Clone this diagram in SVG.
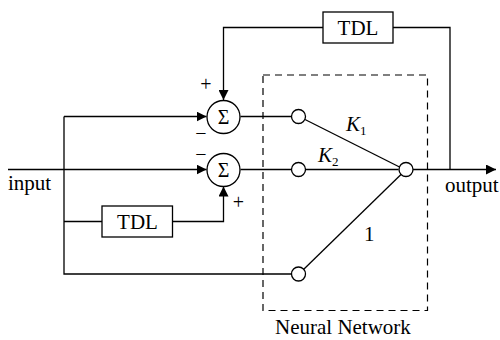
<svg xmlns="http://www.w3.org/2000/svg" width="500" height="340" viewBox="0 0 500 340">
<defs>
<style>
.ln{fill:none;stroke:#000;stroke-width:1.3}
.box{fill:#fff;stroke:#000;stroke-width:1.3}
.nd{fill:#fff;stroke:#000;stroke-width:1.3}
.t{font-family:"Liberation Serif","Times New Roman",serif;font-size:21px;fill:#000}
.s{font-family:"Liberation Serif","Times New Roman",serif;font-size:20px;fill:#000;text-anchor:middle}
.dash{fill:none;stroke:#000;stroke-width:1.2;stroke-dasharray:7,5}
</style>
<marker id="ah" viewBox="0 0 10 10" refX="10" refY="5" markerWidth="10" markerHeight="10" markerUnits="userSpaceOnUse" orient="auto">
<path d="M0,0 L10,5 L0,10 z" fill="#000"/>
</marker>
</defs>
<rect width="500" height="340" fill="#fff"/>
<g id="connectors">
<path class="ln" d="M8,169.5 H206.5" marker-end="url(#ah)"/>
<path class="ln" d="M64,116.5 H206.5"  marker-end="url(#ah)"/>
<path class="ln" d="M64,116.5 V274 H291.5"/>
<path class="ln" d="M64,221.5 H102"/>
<path class="ln" d="M172.5,221.5 H223.5 V186.5" marker-end="url(#ah)"/>
<path class="ln" d="M323,27.5 H223.5 V100" marker-end="url(#ah)"/>
<path class="ln" d="M393,27.5 H450 V170"/>
<path class="ln" d="M240.5,116.5 H291.5"/>
<path class="ln" d="M240.5,169.5 H291.5"/>
<path class="ln" d="M305,119.5 L399.5,167"/>
<path class="ln" d="M305.5,169.5 H398.5"/>
<path class="ln" d="M303,270 L401.5,174"/>
<path class="ln" d="M413,169.5 H496" marker-end="url(#ah)"/>
</g>
<g id="neural-network">
<rect class="dash" x="263" y="75" width="164.5" height="235.5"/>
<text class="t" x="275" y="334">Neural Network</text>
</g>
<g id="sum1">
<circle class="nd" cx="223.5" cy="117" r="16.5"/>
<text class="s" x="223.5" y="124">Σ</text>
<text class="s" x="206" y="91">+</text>
<text class="s" x="201" y="140">−</text>
</g>
<g id="sum2">
<circle class="nd" cx="223.5" cy="170" r="16.5"/>
<text class="s" x="223.5" y="177">Σ</text>
<text class="s" x="201" y="161">−</text>
<text class="s" x="238.5" y="209">+</text>
</g>
<g id="tdl-top">
<rect class="box" x="323" y="12" width="70" height="31"/>
<text class="t" x="358" y="35" text-anchor="middle">TDL</text>
</g>
<g id="tdl-bottom">
<rect class="box" x="102" y="206" width="70.5" height="31"/>
<text class="t" x="137.5" y="229" text-anchor="middle">TDL</text>
</g>
<g id="in1"><circle class="nd" cx="298.5" cy="116.5" r="7"/></g>
<g id="in2"><circle class="nd" cx="298.5" cy="169.5" r="7"/></g>
<g id="in3"><circle class="nd" cx="298.5" cy="274" r="7"/></g>
<g id="out"><circle class="nd" cx="406" cy="169.5" r="7"/></g>
<g id="labels">
<text class="t" x="346" y="131"><tspan font-style="italic">K</tspan><tspan font-size="13" dy="4">1</tspan></text>
<text class="t" x="318" y="162"><tspan font-style="italic">K</tspan><tspan font-size="13" dy="4">2</tspan></text>
<text class="t" x="364" y="241">1</text>
<text class="t" x="8" y="190">input</text>
<text class="t" x="445" y="192">output</text>
</g>
</svg>
